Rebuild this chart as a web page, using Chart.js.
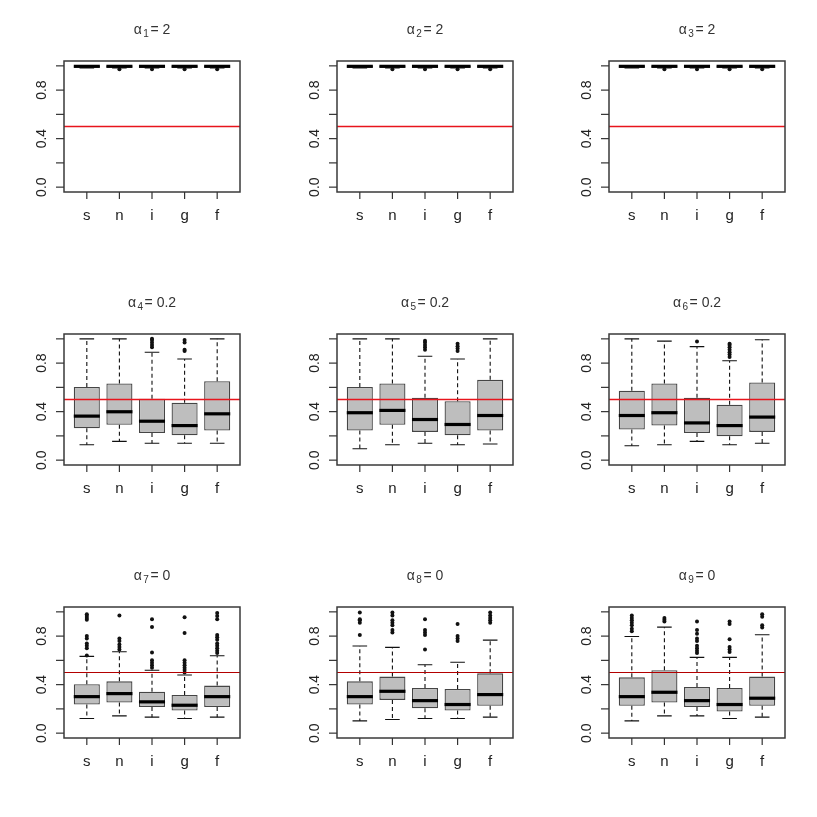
<!DOCTYPE html>
<html>
<head>
<meta charset="utf-8">
<script src="https://cdn.jsdelivr.net/npm/chart.js@4.4.1/dist/chart.umd.min.js"></script>
<style>
  html, body { margin: 0; padding: 0; background: #fff; }
  #grid { position: relative; width: 817px; height: 817px; background: #fff; overflow: hidden; }
  #grid canvas { position: absolute; }
</style>
</head>
<body>
<div id="grid"></div>
<script>
// groups on the x axis and one alpha value per panel
const groups = ["s", "n", "i", "g", "f"];
const alphaValues = [2, 2, 2, 0.2, 0.2, 0.2, 0, 0, 0];
const yTicks = [0, 0.2, 0.4, 0.6, 0.8, 1.0];
const yTickLabels = ["0.0", "", "0.4", "", "0.8", ""];
const refValue = 0.5;

// box statistics, one row per panel, one value per group
const whiskerLow = [
  [0.982, 0.982, 0.982, 0.982, 0.982],
  [0.982, 0.982, 0.982, 0.982, 0.982],
  [0.982, 0.982, 0.982, 0.982, 0.982],
  [0.127, 0.155, 0.139, 0.139, 0.139],
  [0.094, 0.127, 0.139, 0.127, 0.133],
  [0.119, 0.127, 0.155, 0.127, 0.139],
  [0.121, 0.142, 0.132, 0.121, 0.132],
  [0.101, 0.112, 0.121, 0.121, 0.132],
  [0.101, 0.142, 0.142, 0.121, 0.132]
];
const quartile1 = [
  [0.987, 0.987, 0.987, 0.987, 0.987],
  [0.987, 0.987, 0.987, 0.987, 0.987],
  [0.987, 0.987, 0.987, 0.987, 0.987],
  [0.263, 0.291, 0.224, 0.205, 0.244],
  [0.244, 0.291, 0.233, 0.205, 0.244],
  [0.252, 0.285, 0.224, 0.197, 0.233],
  [0.236, 0.252, 0.216, 0.186, 0.216],
  [0.236, 0.274, 0.205, 0.186, 0.225],
  [0.225, 0.252, 0.216, 0.178, 0.225]
];
const medians = [
  [0.996, 0.996, 0.996, 0.996, 0.996],
  [0.996, 0.996, 0.996, 0.996, 0.996],
  [0.996, 0.996, 0.996, 0.996, 0.996],
  [0.363, 0.399, 0.321, 0.285, 0.382],
  [0.391, 0.41, 0.335, 0.294, 0.368],
  [0.368, 0.391, 0.307, 0.285, 0.355],
  [0.301, 0.326, 0.258, 0.23, 0.301],
  [0.301, 0.345, 0.268, 0.236, 0.318],
  [0.301, 0.337, 0.268, 0.236, 0.288]
];
const quartile3 = [
  [1, 1, 1, 1, 1],
  [1, 1, 1, 1, 1],
  [1, 1, 1, 1, 1],
  [0.604, 0.632, 0.507, 0.474, 0.651],
  [0.604, 0.632, 0.515, 0.485, 0.662],
  [0.573, 0.632, 0.515, 0.457, 0.64],
  [0.403, 0.427, 0.342, 0.315, 0.392],
  [0.427, 0.466, 0.373, 0.364, 0.493],
  [0.46, 0.518, 0.381, 0.373, 0.466]
];
const whiskerHigh = [
  [1, 1, 1, 1, 1],
  [1, 1, 1, 1, 1],
  [1, 1, 1, 1, 1],
  [1.0, 1.0, 0.889, 0.834, 1.0],
  [1.0, 1.0, 0.856, 0.834, 1.0],
  [1.0, 0.981, 0.936, 0.82, 0.992],
  [0.633, 0.671, 0.518, 0.479, 0.638],
  [0.718, 0.707, 0.564, 0.584, 0.767],
  [0.797, 0.874, 0.625, 0.625, 0.811]
];
const outliers = [
  [[], [0.972], [0.972], [0.972], [0.972]],
  [[], [0.972], [0.972], [0.972], [0.972]],
  [[], [0.972], [0.972], [0.972], [0.972]],
  [[], [], [0.93, 0.95, 0.97, 0.99, 1.0], [0.9, 0.91, 0.97, 0.99], []],
  [[], [], [0.91, 0.93, 0.95, 0.97, 0.985], [0.9, 0.92, 0.94, 0.96], []],
  [[], [], [0.978], [0.85, 0.87, 0.89, 0.91, 0.93, 0.95, 0.96], []],
  [[0.64, 0.7, 0.72, 0.74, 0.78, 0.8, 0.935, 0.95, 0.965, 0.98],
   [0.69, 0.71, 0.73, 0.76, 0.78, 0.97],
   [0.54, 0.56, 0.58, 0.6, 0.665, 0.875, 0.94],
   [0.5, 0.52, 0.54, 0.56, 0.58, 0.6, 0.825, 0.955],
   [0.66, 0.68, 0.7, 0.72, 0.74, 0.77, 0.79, 0.81, 0.94, 0.965, 0.99]],
  [[0.81, 0.91, 0.93, 0.94, 0.995],
   [0.83, 0.85, 0.89, 0.91, 0.93, 0.97, 0.995],
   [0.69, 0.81, 0.83, 0.85, 0.94],
   [0.76, 0.78, 0.8, 0.9],
   [0.91, 0.93, 0.95, 0.97, 0.995]],
  [[0.84, 0.86, 0.89, 0.91, 0.93, 0.95, 0.97],
   [0.92, 0.935, 0.95],
   [0.66, 0.68, 0.7, 0.72, 0.76, 0.78, 0.82, 0.85, 0.92],
   [0.67, 0.69, 0.71, 0.775, 0.9, 0.92],
   [0.87, 0.89, 0.96, 0.98]]
];

const FONT = '"Liberation Sans", Arial, Helvetica, sans-serif';
const INK = "#222";

const boxplotPlugin = {
  id: "boxplot",
  afterDatasetsDraw(chart) {
    const k = chart.options.plugins.boxplot.panel;
    const ctx = chart.ctx;
    const x = chart.scales.x, y = chart.scales.y;
    const area = chart.chartArea;
    const bars = chart.getDatasetMeta(0).data;
    ctx.save();

    groups.forEach((g, i) => {
      const px = x.getPixelForValue(i + 1);
      const w = bars[i].width;
      const yLo = y.getPixelForValue(whiskerLow[k][i]);
      const yHi = y.getPixelForValue(whiskerHigh[k][i]);
      const yQ1 = y.getPixelForValue(quartile1[k][i]);
      const yQ3 = y.getPixelForValue(quartile3[k][i]);
      // dashed whiskers
      ctx.strokeStyle = "#111";
      ctx.lineWidth = 1.1;
      ctx.setLineDash([4, 3]);
      ctx.beginPath();
      ctx.moveTo(px, yQ3); ctx.lineTo(px, yHi);
      ctx.moveTo(px, yQ1); ctx.lineTo(px, yLo);
      ctx.stroke();
      // staples
      ctx.setLineDash([]);
      ctx.beginPath();
      ctx.moveTo(px - w * 0.28, yHi); ctx.lineTo(px + w * 0.28, yHi);
      ctx.moveTo(px - w * 0.28, yLo); ctx.lineTo(px + w * 0.28, yLo);
      ctx.stroke();
      // median
      const yMed = y.getPixelForValue(medians[k][i]);
      ctx.strokeStyle = "#000";
      ctx.lineWidth = 3.2;
      ctx.beginPath();
      ctx.moveTo(px - w / 2, yMed); ctx.lineTo(px + w / 2, yMed);
      ctx.stroke();
    });

    // reference line
    const yRef = y.getPixelForValue(refValue);
    ctx.strokeStyle = k < 6 ? "#e8141c" : "#b30000";
    ctx.lineWidth = k < 6 ? 1.5 : 1;
    ctx.beginPath();
    ctx.moveTo(area.left, yRef); ctx.lineTo(area.right, yRef);
    ctx.stroke();

    // frame
    ctx.strokeStyle = "#3a3a3a";
    ctx.lineWidth = 1.5;
    ctx.strokeRect(area.left, area.top, area.right - area.left, area.bottom - area.top);

    // y axis ticks and rotated labels
    ctx.strokeStyle = "#333";
    ctx.lineWidth = 1.2;
    ctx.fillStyle = INK;
    ctx.font = "14px " + FONT;
    yTicks.forEach((v, j) => {
      const py = y.getPixelForValue(v);
      ctx.beginPath();
      ctx.moveTo(area.left, py); ctx.lineTo(area.left - 8, py);
      ctx.stroke();
      if (yTickLabels[j]) {
        ctx.save();
        ctx.translate(area.left - 18, py);
        ctx.rotate(-Math.PI / 2);
        ctx.textAlign = "center";
        ctx.textBaseline = "alphabetic";
        ctx.fillText(yTickLabels[j], 0, 0);
        ctx.restore();
      }
    });

    // x axis ticks and labels
    ctx.font = "15px " + FONT;
    ctx.textAlign = "center";
    ctx.textBaseline = "alphabetic";
    groups.forEach((g, i) => {
      const px = x.getPixelForValue(i + 1);
      ctx.beginPath();
      ctx.moveTo(px, area.bottom); ctx.lineTo(px, area.bottom + 7);
      ctx.stroke();
      ctx.fillText(g, px, area.bottom + 28);
    });

    // title: alpha with subscript index
    const main = "14px " + FONT, sub = "10px " + FONT;
    const rest = "= " + String(alphaValues[k]);
    const idx = String(k + 1);
    ctx.font = main;
    const wA = ctx.measureText("\u03b1").width;
    const wR = ctx.measureText(rest).width;
    ctx.font = sub;
    const wS = ctx.measureText(idx).width;
    const total = wA + 1.5 + wS + 1.5 + wR;
    let tx = (area.left + area.right) / 2 - total / 2;
    const ty = area.top - 27;
    ctx.textAlign = "left";
    ctx.fillStyle = "#333";
    ctx.font = main;
    ctx.fillText("\u03b1", tx, ty);
    tx += wA + 1.5;
    ctx.font = sub;
    ctx.fillText(idx, tx, ty + 3);
    tx += wS + 1.5;
    ctx.font = main;
    ctx.fillText(rest, tx, ty);

    ctx.restore();
  }
};

function makePanel(k) {
  const col = k % 3, row = Math.floor(k / 3);
  const canvas = document.createElement("canvas");
  canvas.width = 272;
  canvas.height = 273;
  canvas.style.left = [0, 273, 545][col] + "px";
  canvas.style.top = (row * 273) + "px";
  document.getElementById("grid").appendChild(canvas);

  const boxes = groups.map((g, i) => ({ x: i + 1, y: [quartile1[k][i], quartile3[k][i]] }));
  const points = [];
  groups.forEach((g, i) => outliers[k][i].forEach((v) => points.push({ x: i + 1, y: v })));

  new Chart(canvas, {
    type: "bar",
    data: {
      datasets: [
        {
          type: "bar",
          data: boxes,
          backgroundColor: "#bebebe",
          borderColor: "#454545",
          borderWidth: 1.3,
          borderSkipped: false,
          barPercentage: 0.8,
          categoryPercentage: 1,
          order: 2
        },
        {
          type: "scatter",
          data: points,
          pointRadius: 2,
          pointBackgroundColor: "#111",
          pointBorderWidth: 0,
          order: 1
        }
      ]
    },
    options: {
      responsive: false,
      animation: false,
      events: [],
      layout: { padding: { left: 64, right: 32, top: 61, bottom: 81 } },
      plugins: {
        legend: { display: false },
        tooltip: { enabled: false },
        boxplot: { panel: k }
      },
      scales: {
        x: { type: "linear", min: 0.3, max: 5.7, offset: false, display: false },
        y: { type: "linear", min: -0.04, max: 1.04, display: false }
      }
    },
    plugins: [boxplotPlugin]
  });
}

alphaValues.forEach((a, k) => makePanel(k));
</script>
</body>
</html>
